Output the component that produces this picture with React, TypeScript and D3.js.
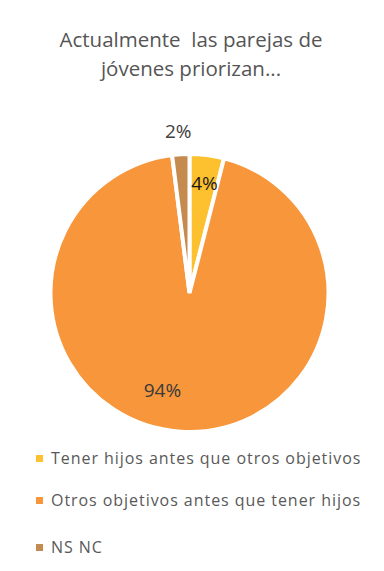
import React from "react";
import * as d3 from "d3";

const categories = [
  "Tener hijos antes que otros objetivos",
  "Otros objetivos antes que tener hijos",
  "NS NC",
];
const values = [4, 94, 2];
const labels = ["4%", "94%", "2%"];
const colors = ["#FDC02E", "#F7963B", "#C48A4E"];
const titleLines = ["Actualmente  las parejas de", "jóvenes priorizan..."];

export default function App() {
  const W = 384, H = 571;
  const cx = 189.5, cy = 293, r = 139;
  const pie = d3.pie<number>().sort(null).value((d) => d)(values);
  const arc = d3.arc<d3.PieArcDatum<number>>().innerRadius(0).outerRadius(r);
  const inArc = d3.arc<d3.PieArcDatum<number>>().innerRadius(r * 0.8).outerRadius(r * 0.8);
  const mid94 = d3.arc<d3.PieArcDatum<number>>().innerRadius(r * 0.7).outerRadius(r * 0.7);
  const outArc = d3.arc<d3.PieArcDatum<number>>().innerRadius(r * 1.17).outerRadius(r * 1.17);
  const pos = [inArc.centroid(pie[0]), mid94.centroid(pie[1]), outArc.centroid(pie[2])];
  const labelDx = [1, -21, -1];
  const labelColors = ["#1a1a1a", "#3a3a3a", "#404040"];
  const font = "'Open Sans', 'Noto Sans', sans-serif";
  const legendY = [464, 506, 553];
  return (
    <svg width={W} height={H} style={{ position: "absolute", left: 0, top: 0 }} fontFamily={font}>
      <rect width={W} height={H} fill="#fff" />
      {titleLines.map((t, i) => (
        <text key={i} x={191} y={47 + i * 29} textAnchor="middle" fontSize={20.5} fill="#555555" style={{ whiteSpace: "pre" }}>
          {t}
        </text>
      ))}
      <g transform={`translate(${cx},${cy})`}>
        {pie.map((p, i) => (
          <path key={i} d={arc(p) || ""} fill={colors[i]} stroke="#fff" strokeWidth={4} strokeLinejoin="miter" />
        ))}
        {pie.map((p, i) => (
          <text key={i} x={pos[i][0] + labelDx[i]} y={pos[i][1] + 7} textAnchor="middle" fontSize={19} fill={labelColors[i]}>
            {labels[i]}
          </text>
        ))}
      </g>
      {categories.map((c, i) => (
        <g key={i}>
          <rect x={36} y={legendY[i] - 9} width={7} height={7} fill={colors[i]} />
          <text x={51} y={legendY[i]} fontSize={16} letterSpacing={0.95} fill="#595959">
            {c}
          </text>
        </g>
      ))}
    </svg>
  );
}
